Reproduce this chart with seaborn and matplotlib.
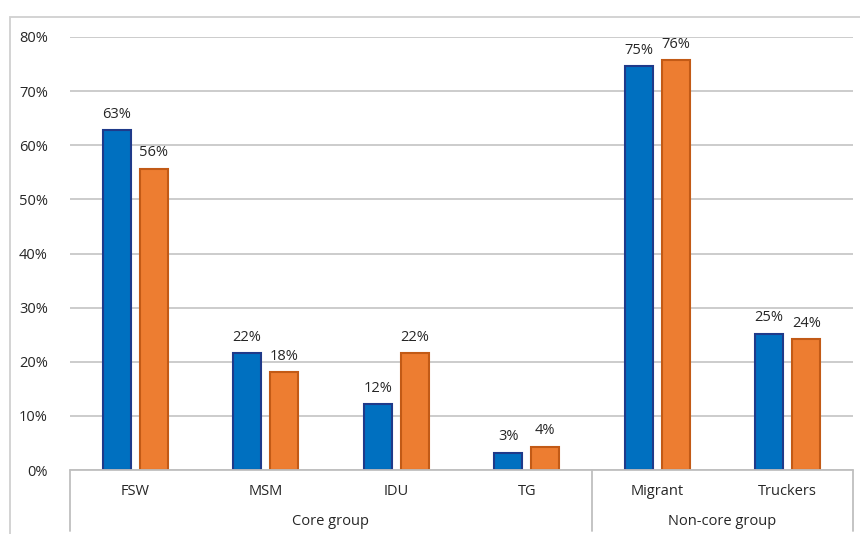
import matplotlib
matplotlib.use('Agg')
import matplotlib.pyplot as plt
import matplotlib.transforms as mtransforms
from matplotlib.patches import Rectangle
import pandas as pd
import seaborn as sns

categories = ['FSW', 'MSM', 'IDU', 'TG', 'Migrant', 'Truckers']
series_a = [62.8, 21.6, 12.2, 3.2, 74.6, 25.2]
series_b = [55.7, 18.1, 21.6, 4.3, 75.7, 24.2]
groups = ['Core group', 'Non-core group']
group_sizes = [4, 2]
yticks = [0, 10, 20, 30, 40, 50, 60, 70, 80]

blue, blue_edge = '#0070C0', '#1F3A8A'
orange, orange_edge = '#ED7D31', '#C25A16'
text_col = '#262626'
line_col = '#BFBFBF'

df = pd.DataFrame({
    'category': categories * 2,
    'series': ['A'] * len(categories) + ['B'] * len(categories),
    'value': series_a + series_b,
})

sns.set_style('white')
plt.rcParams['font.family'] = ['Open Sans', 'DejaVu Sans']

fig = plt.figure(figsize=(8.6, 5.34), dpi=100)
ax = fig.add_axes([70 / 860, 1 - 470 / 534, 783 / 860, 433 / 534])

sns.barplot(data=df, x='category', y='value', hue='series', order=categories,
            palette=[blue, orange], saturation=1, width=0.57, gap=0.24,
            legend=False, ax=ax, linewidth=1.5, zorder=3)
for bar, ec in zip(ax.patches, [blue_edge] * 6 + [orange_edge] * 6):
    bar.set_edgecolor(ec)

for cont in ax.containers:
    ax.bar_label(cont, labels=[f'{v:.0f}%' for v in cont.datavalues],
                 padding=6, fontsize=10.5, color=text_col)

ax.set_ylim(0, 80)
ax.set_xlim(-0.5, len(categories) - 0.5)
ax.set_yticks(yticks)
ax.set_yticklabels([f'{t}%' for t in yticks], fontsize=10.5, color=text_col)
ax.tick_params(axis='y', length=0, pad=16)
ax.set_xticks([])
ax.set_xlabel('')
ax.set_ylabel('')
ax.grid(axis='y', color='#C8C8C8', linewidth=1.3, zorder=0)
ax.set_axisbelow(True)
for s in ax.spines.values():
    s.set_visible(False)

# grouped category axis below the plot
trans = mtransforms.blended_transform_factory(ax.transData, ax.transAxes)
ax.plot([-0.5, len(categories) - 0.5], [0, 0], color=line_col, lw=1.3,
        transform=trans, clip_on=False, zorder=4)
for i, c in enumerate(categories):
    ax.text(i, -0.05, c, transform=trans, ha='center', va='center',
            fontsize=10.5, color=text_col)
start = -0.5
ax.plot([start, start], [0, -0.14], color=line_col, lw=1.3, transform=trans, clip_on=False)
for g, n in zip(groups, group_sizes):
    end = start + n
    ax.plot([end, end], [0, -0.14], color=line_col, lw=1.3, transform=trans, clip_on=False)
    ax.text((start + end) / 2, -0.118, g, transform=trans, ha='center', va='center',
            fontsize=10.5, color=text_col)
    start = end

# outer chart frame
fig.patches.append(Rectangle((10 / 860, -0.1), 1.0, 1 - 17 / 534 + 0.1,
                             transform=fig.transFigure, fill=False,
                             edgecolor='#D0D0D0', lw=1.3))

fig.savefig('out.png', dpi=100)
